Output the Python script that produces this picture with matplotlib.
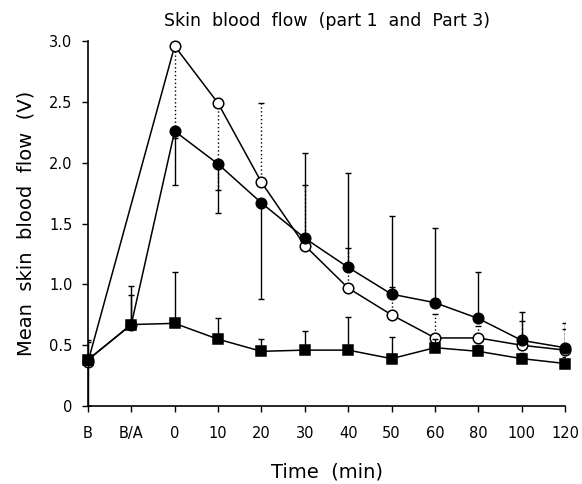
import matplotlib
matplotlib.use("Agg")
import matplotlib.pyplot as plt
import numpy as np

plt.rcParams['font.family'] = ['DejaVu Sans']

labels = ['B', 'B/A', '0', '10', '20', '30', '40', '50', '60', '80', '100', '120']

# filled circles
filled_idx = list(range(12))
filled = [0.38, 0.67, 2.26, 1.99, 1.67, 1.38, 1.14, 0.92, 0.85, 0.72, 0.54, 0.48]
filled_bar_end = [0.0, 0.91, 1.82, 1.59, 0.88, 2.08, 1.92, 1.56, 1.46, 1.10, 0.77, 0.68]

# open circles (no B/A point)
open_idx = [0, 2, 3, 4, 5, 6, 7, 8, 9, 10, 11]
open_vals = [0.36, 2.96, 2.49, 1.84, 1.32, 0.97, 0.75, 0.56, 0.56, 0.50, 0.46]
open_bar_end = [0.53, 2.20, 1.78, 2.49, 1.82, 1.30, 0.98, 0.76, 0.66, 0.70, 0.63]

# filled squares
square_idx = list(range(12))
squares = [0.38, 0.67, 0.68, 0.55, 0.45, 0.46, 0.46, 0.39, 0.48, 0.45, 0.39, 0.35]
square_bar_end = [0.54, 0.99, 1.10, 0.72, 0.55, 0.62, 0.73, 0.57, 0.55, 0.50, 0.44, 0.40]

yticks = [0, 0.5, 1.0, 1.5, 2.0, 2.5, 3.0]
ytick_labels = ['0', '0.5', '1.0', '1.5', '2.0', '2.5', '3.0']

fig = plt.figure(figsize=(5.82, 4.84), dpi=100)
ax = fig.add_axes([0.151, 0.161, 0.820, 0.754])


def asym(vals, ends):
    v = np.asarray(vals, float)
    e = np.asarray(ends, float)
    lower = np.where(e < v, v - e, 0.0)
    upper = np.where(e > v, e - v, 0.0)
    return [lower, upper]


def draw(idx, vals, ends, marker, face, bar_style, zo):
    x = np.asarray(idx)
    eb = ax.errorbar(x, vals, yerr=asym(vals, ends), fmt='none', ecolor='black',
                     elinewidth=1.0, capsize=2.2, capthick=1.0, zorder=zo)
    for coll in eb[2]:
        coll.set_linestyle(bar_style)
    ax.plot(x, vals, color='black', lw=1.1, marker=marker, markersize=7.6,
            markerfacecolor=face, markeredgecolor='black', markeredgewidth=1.1,
            zorder=zo + 1, clip_on=False)


draw(open_idx, open_vals, open_bar_end, 'o', 'white', (0, (1.0, 1.8)), 2)
draw(square_idx, squares, square_bar_end, 's', 'black', '-', 4)
draw(filled_idx, filled, filled_bar_end, 'o', 'black', '-', 6)

ax.set_xlim(0, 11)
ax.set_ylim(0, 3.0)
ax.set_xticks(range(12))
ax.set_xticklabels(labels)
ax.set_yticks(yticks)
ax.set_yticklabels(ytick_labels)
for s in ['top', 'right']:
    ax.spines[s].set_visible(False)
for s in ['left', 'bottom']:
    ax.spines[s].set_linewidth(1.2)
ax.tick_params(direction='out', length=4, width=1.0, labelsize=10.5)
ax.tick_params(axis='x', pad=10)
ax.tick_params(axis='y', pad=7)

ax.set_xlabel('Time  (min)', fontsize=14, labelpad=16)
ax.set_ylabel('Mean  skin  blood  flow  (V)', fontsize=14, labelpad=10)
ax.set_title('Skin  blood  flow  (part 1  and  Part 3)', fontsize=12.5, pad=11)

fig.savefig('out.png', dpi=100)
